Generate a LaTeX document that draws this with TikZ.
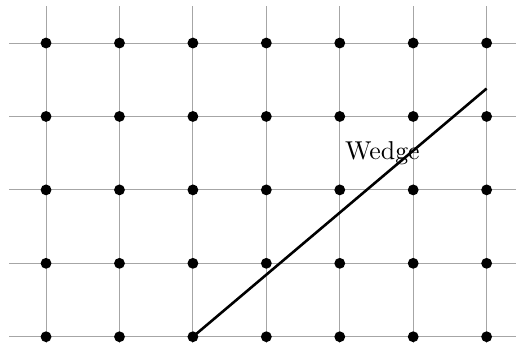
\documentclass[tikz,border=0pt]{standalone}
\usepackage{tikz}
\usetikzlibrary{positioning}

\begin{document}
\begin{tikzpicture}[
  gridline/.style={gray!70, line width=0.4pt},
  dot/.style={circle, fill=black, inner sep=0pt, minimum size=4.2pt},
  wedge/.style={line width=1pt}
]
  \useasboundingbox (-0.627,-0.082) rectangle (6.40,4.586);
  \clip (-0.627,-0.082) rectangle (6.40,4.586);

  % lattice
  \foreach \x in {0,...,6}
    \draw[gridline] (\x,-0.5) -- (\x,4.5);
  \foreach \y in {0,...,4}
    \draw[gridline] (-0.5,\y) -- (6.5,\y);
  \foreach \x in {0,...,6}
    \foreach \y in {0,...,4}
      \node[dot] (p-\x-\y) at (\x,\y) {};

  \coordinate (tip) at (6,3.38);
  \draw[wedge] (p-2-0.center) -- (tip);
  \node (lbl) at (4.58,2.5) {Wedge};
\end{tikzpicture}
\end{document}
